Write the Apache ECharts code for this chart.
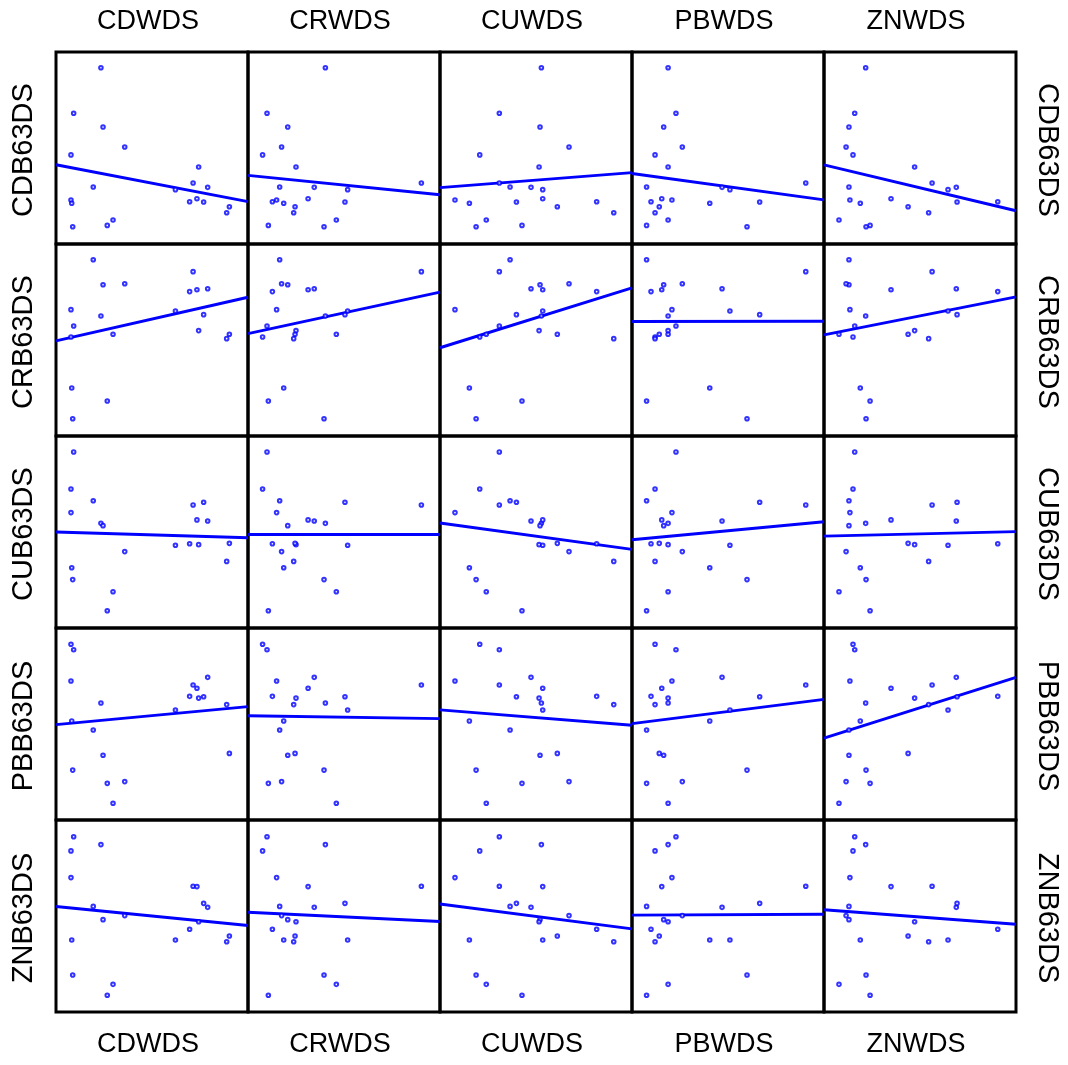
<!DOCTYPE html>
<html>
<head>
<meta charset="utf-8">
<script src="https://cdn.jsdelivr.net/npm/echarts@6/dist/echarts.min.js"></script>
<style>
html,body{margin:0;padding:0;background:#fff;}
#chart{width:1068px;height:1065px;}
</style>
</head>
<body>
<div id="chart"></div>
<script>
// Column (x) variables and row (y) variables
const xNames = ['CDWDS', 'CRWDS', 'CUWDS', 'PBWDS', 'ZNWDS'];
const yNames = ['CDB63DS', 'CRB63DS', 'CUB63DS', 'PBB63DS', 'ZNB63DS'];

// 20 observations, values in panel-percent units (0-100)
const CDWDS = [23.4, 9.2, 24.5, 35.8, 7.8, 74.3, 71.4, 19.4, 79.0, 62.2, 73.4, 7.8, 69.6, 76.9, 8.2, 90.3, 88.9, 29.7, 26.7, 8.7];
const CRWDS = [40.3, 9.9, 20.7, 17.5, 7.6, 25.0, 90.3, 16.5, 34.5, 51.9, 31.3, 14.9, 12.7, 50.5, 18.6, 24.5, 23.8, 46.0, 10.6, 39.6];
const CUWDS = [52.8, 30.9, 52.1, 67.2, 20.7, 51.6, 30.9, 36.5, 47.4, 53.5, 53.5, 7.8, 81.6, 39.8, 15.3, 61.1, 90.5, 24.1, 42.7, 18.8];
const PBWDS = [18.8, 22.9, 16.5, 26.2, 12.0, 18.8, 90.5, 7.6, 46.9, 51.0, 15.5, 20.8, 9.9, 66.5, 40.5, 14.2, 12.0, 18.8, 7.6, 59.9];
const ZNWDS = [21.7, 16.0, 13.0, 11.5, 15.1, 47.2, 56.3, 13.0, 68.9, 64.6, 34.9, 13.5, 90.5, 69.3, 18.9, 43.8, 54.5, 7.8, 24.0, 21.9];

const CDB63DS = [91.8, 68.1, 60.9, 50.5, 46.4, 40.1, 31.8, 29.7, 29.5, 28.3, 23.6, 22.9, 22.0, 21.9, 21.2, 19.4, 16.3, 12.5, 9.7, 9.0];
const CRB63DS = [62.5, 57.3, 78.8, 79.3, 51.6, 54.9, 85.6, 91.8, 76.7, 65.1, 76.2, 65.8, 75.2, 63.2, 25.0, 53.0, 50.7, 53.0, 18.2, 9.0];
const CUB63DS = [54.5, 91.7, 53.3, 39.8, 72.4, 43.4, 64.1, 66.3, 55.7, 43.1, 56.3, 60.1, 43.9, 65.5, 31.4, 44.1, 34.7, 18.9, 9.0, 25.2];
const PBB63DS = [60.9, 88.7, 33.7, 20.0, 91.5, 63.5, 70.3, 46.9, 74.3, 57.3, 68.6, 72.4, 64.4, 64.2, 51.6, 34.7, 60.1, 8.7, 19.1, 26.0];
const ZNB63DS = [87.2, 91.3, 48.1, 50.2, 83.9, 47.0, 65.5, 55.0, 54.5, 37.5, 65.3, 70.0, 43.1, 56.6, 37.5, 39.6, 36.6, 14.4, 8.7, 19.3];

const xData = [CDWDS, CRWDS, CUWDS, PBWDS, ZNWDS];
const yData = [CDB63DS, CRB63DS, CUB63DS, PBB63DS, ZNB63DS];

const AX_MIN = 0, AX_MAX = 100;

function ols(xs, ys) {
  const n = xs.length;
  let mx = 0, my = 0;
  for (let i = 0; i < n; i++) { mx += xs[i]; my += ys[i]; }
  mx /= n; my /= n;
  let sxy = 0, sxx = 0;
  for (let i = 0; i < n; i++) { sxy += (xs[i]-mx)*(ys[i]-my); sxx += (xs[i]-mx)*(xs[i]-mx); }
  const b = sxy / sxx;
  return { a: my - b*mx, b: b };
}

const LEFT = 56, TOP = 52, CELL = 192;
const grids = [], xAxes = [], yAxes = [], series = [];
for (let r = 0; r < 5; r++) {
  for (let c = 0; c < 5; c++) {
    const gi = r*5 + c;
    grids.push({
      left: LEFT + c*CELL, top: TOP + r*CELL, width: CELL, height: CELL,
      show: true, borderColor: '#000', borderWidth: 3, backgroundColor: 'transparent'
    });
    xAxes.push({ gridIndex: gi, type: 'value', min: AX_MIN, max: AX_MAX, show: false });
    yAxes.push({ gridIndex: gi, type: 'value', min: AX_MIN, max: AX_MAX, show: false });
    const xs = xData[c], ys = yData[r];
    const pts = xs.map((v, i) => [v, ys[i]]);
    const fit = ols(xs, ys);
    series.push({
      type: 'line', xAxisIndex: gi, yAxisIndex: gi, silent: true,
      data: [[AX_MIN, fit.a + fit.b*AX_MIN], [AX_MAX, fit.a + fit.b*AX_MAX]],
      symbol: 'none', clip: true, z: 3,
      lineStyle: { color: '#0000ff', width: 2.9 }
    });
    series.push({
      type: 'scatter', xAxisIndex: gi, yAxisIndex: gi, silent: true,
      data: pts, symbol: 'emptyCircle', symbolSize: 3.6, z: 4,
      itemStyle: { color: '#0000ff', borderColor: '#0000ff', borderWidth: 1 }
    });
  }
}

const graphics = [];
const FONT = '27px "Liberation Sans", Arial, sans-serif';
const FONT_SIDE = '29px "Liberation Sans", Arial, sans-serif';
for (let c = 0; c < 5; c++) {
  const cx = LEFT + c*CELL + CELL/2 - 4;
  graphics.push({ type: 'text', x: cx, y: 22, style: { text: xNames[c], font: FONT, fill: '#000', align: 'center', verticalAlign: 'middle', textAlign: 'center', textVerticalAlign: 'middle' } });
  graphics.push({ type: 'text', x: cx, y: 1045, style: { text: xNames[c], font: FONT, fill: '#000', align: 'center', verticalAlign: 'middle', textAlign: 'center', textVerticalAlign: 'middle' } });
}
for (let r = 0; r < 5; r++) {
  const cy = TOP + r*CELL + CELL/2 + 2;
  graphics.push({ type: 'text', x: 24, y: cy, rotation: Math.PI/2, style: { text: yNames[r], font: FONT_SIDE, fill: '#000', align: 'center', verticalAlign: 'middle', textAlign: 'center', textVerticalAlign: 'middle' } });
  graphics.push({ type: 'text', x: 1047, y: cy, rotation: -Math.PI/2, style: { text: yNames[r], font: FONT_SIDE, fill: '#000', align: 'center', verticalAlign: 'middle', textAlign: 'center', textVerticalAlign: 'middle' } });
}

const chart = echarts.init(document.getElementById('chart'), null, { renderer: 'canvas' });
chart.setOption({
  animation: false,
  backgroundColor: '#fff',
  grid: grids,
  xAxis: xAxes,
  yAxis: yAxes,
  series: series,
  graphic: graphics
});
</script>
</body>
</html>
